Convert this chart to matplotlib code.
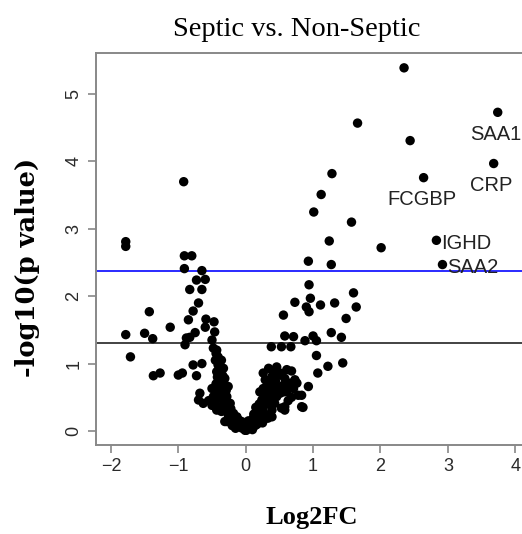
import numpy as np
import matplotlib
matplotlib.use('agg')
from matplotlib import pyplot as plt

# upregulated / far-out genes
x_hi = [2.35, 3.74, 1.66, 2.44, 3.68, 1.28, 2.64, 1.12, 1.01, 1.57, 1.24, 2.83, 2.01,
        2.92, 0.93, 1.27, 0.94, 1.60, 0.73, 0.96, 0.90, 0.94, 1.11, 1.32, 1.64, 0.56,
        1.49, 1.27, 1.42, 0.58, 0.71, 0.88, 1.00, 1.05, 0.38, 0.53, 0.67, 1.05, 1.22,
        1.44, 1.07, 0.93, 0.85, 0.83, 0.58]
y_hi = [5.39, 4.73, 4.57, 4.31, 3.97, 3.82, 3.76, 3.51, 3.25, 3.10, 2.82, 2.83, 2.72,
        2.47, 2.52, 2.47, 2.17, 2.05, 1.91, 1.97, 1.84, 1.77, 1.87, 1.90, 1.84, 1.72,
        1.67, 1.46, 1.39, 1.41, 1.40, 1.34, 1.41, 1.34, 1.25, 1.25, 1.25, 1.12, 0.96,
        1.01, 0.86, 0.66, 0.35, 0.53, 0.36]

# downregulated side
x_lo = [-0.92, -1.78, -1.78, -1.43, -1.78, -1.50, -1.38, -1.12, -1.71, -1.37, -1.27,
        -1.00, -0.94, -0.91, -0.80, -0.91, -0.65, -0.73, -0.60, -0.83, -0.65, -0.70,
        -0.78, -0.85, -0.59, -0.47, -0.60, -0.46, -0.75, -0.88, -0.83, -0.90, -0.50,
        -0.48, -0.43, -0.41, -0.36, -0.41, -0.33, -0.43, -0.31, -0.38, -0.26, -0.46,
        -0.36, -0.28, -0.23, -0.41, -0.31, -0.21, -0.13, -0.08, -0.01, -0.78, -0.65,
        -0.73, -0.68, -0.70, -0.63, -0.50, -0.48, -0.46, -0.31, -0.43, -0.36, -0.28,
        -0.23, -0.13, -0.08, -0.45, -0.38, -0.35, -0.30, -0.25, -0.18, -0.20, -0.15,
        -0.05, -0.40, -0.33, -0.26, -0.39, -0.44, -0.55, -0.50, -0.10, -0.03, -0.17,
        -0.44, -0.40, -0.37, -0.34, -0.42, -0.32, -0.29, -0.40, -0.35, -0.27, -0.22,
        -0.18, -0.12, -0.06]
y_lo = [3.70, 2.81, 2.74, 1.77, 1.43, 1.45, 1.37, 1.54, 1.10, 0.82, 0.86,
        0.83, 0.86, 2.60, 2.60, 2.41, 2.38, 2.24, 2.25, 2.10, 2.10, 1.90,
        1.78, 1.65, 1.66, 1.62, 1.54, 1.47, 1.46, 1.38, 1.39, 1.28, 1.35,
        1.23, 1.20, 1.10, 1.05, 0.98, 0.93, 0.88, 0.78, 0.71, 0.66, 0.61,
        0.56, 0.51, 0.41, 0.36, 0.34, 0.26, 0.21, 0.11, 0.01, 0.98, 1.00,
        0.82, 0.56, 0.46, 0.41, 0.63, 0.51, 0.41, 0.14, 0.31, 0.29, 0.14,
        0.21, 0.11, 0.06, 1.05, 0.85, 0.65, 0.45, 0.32, 0.18, 0.08, 0.04,
        0.04, 0.50, 0.40, 0.24, 0.78, 0.70, 0.45, 0.38, 0.16, 0.07, 0.10,
        1.15, 1.00, 0.92, 0.82, 0.80, 0.70, 0.60, 0.62, 0.48, 0.40, 0.33,
        0.26, 0.16, 0.14]

# right arm of the V
x_mid = [0.01, 0.06, 0.11, 0.16, 0.21, 0.19, 0.26, 0.31, 0.24, 0.36, 0.43, 0.46, 0.53,
         0.58, 0.06, 0.11, 0.16, 0.21, 0.26, 0.36, 0.29, 0.19, 0.39, 0.33, 0.26, 0.34,
         0.41, 0.46, 0.53, 0.61, 0.68, 0.73, 0.66, 0.56, 0.46, 0.36, 0.29, 0.26, 0.34,
         0.41, 0.51, 0.61, 0.71, 0.78, 0.21, 0.83, 0.51, 0.76, 0.39, 0.48, 0.03, 0.09,
         0.14, 0.22, 0.28, 0.12, 0.20, 0.15, 0.04, 0.44, 0.31, 0.63, 0.31, 0.39, 0.44,
         0.58, 0.63, 0.49, 0.56, 0.68, 0.43, 0.36, 0.10, 0.17, 0.25]
y_mid = [0.01, 0.04, 0.11, 0.16, 0.21, 0.31, 0.29, 0.41, 0.46, 0.39, 0.41, 0.51, 0.34,
         0.31, 0.11, 0.19, 0.26, 0.31, 0.36, 0.46, 0.24, 0.14, 0.31, 0.19, 0.86, 0.93,
         0.88, 0.95, 0.83, 0.91, 0.89, 0.76, 0.71, 0.68, 0.67, 0.73, 0.76, 0.63, 0.56,
         0.61, 0.56, 0.58, 0.63, 0.53, 0.58, 0.36, 0.86, 0.71, 0.21, 0.56, 0.06, 0.05,
         0.08, 0.14, 0.18, 0.25, 0.40, 0.35, 0.15, 0.78, 0.52, 0.45, 0.66, 0.81, 0.74,
         0.78, 0.68, 0.64, 0.58, 0.50, 0.53, 0.60, 0.02, 0.10, 0.12]

genes = ['SAA1', 'CRP', 'FCGBP', 'IGHD', 'SAA2']
gene_x = [3.74, 3.68, 2.64, 2.83, 2.92]
gene_y = [4.73, 3.97, 3.76, 2.83, 2.47]
gene_pos = ['below', 'below', 'below', 'right', 'right']

p05 = 1.30
p_fdr = 2.37

fig = plt.figure(figsize=(5.22, 5.34), dpi=100)
ax = fig.add_axes([0.1833, 0.1667, 0.8425, 0.734])

xs = x_hi + x_lo + x_mid
ys = y_hi + y_lo + y_mid
ax.scatter(xs, ys, s=46, c='black', edgecolors='none', zorder=3)

ax.axhline(p_fdr, color='#2a2aff', lw=1.4, zorder=2)
ax.axhline(p05, color='#222222', lw=1.2, zorder=2)

for g, gx, gy, pos in zip(genes, gene_x, gene_y, gene_pos):
    if pos == 'below':
        ax.text(gx - 0.03, gy - 0.33, g, ha='center', va='center', fontsize=14.5,
                family='Liberation Sans', color='#222222')
    else:
        ax.text(gx + 0.07, gy - 0.04, g, ha='left', va='center', fontsize=14.5,
                family='Liberation Sans', color='#222222')

ax.set_xlim(-2.226, 4.3)
ax.set_ylim(-0.208, 5.61)
ax.set_xticks([-2, -1, 0, 1, 2, 3, 4])
ax.set_yticks([0, 1, 2, 3, 4, 5])
ax.set_xticklabels(['\u22122', '\u22121', '0', '1', '2', '3', '4'])
for lab in ax.get_yticklabels():
    lab.set_rotation(90)
    lab.set_va('center')
ax.tick_params(colors='#888888', labelcolor='#2a2a2a', labelsize=13, length=6,
               width=1.2)
for lab in ax.get_xticklabels() + ax.get_yticklabels():
    lab.set_family('Liberation Sans')
for sp in ax.spines.values():
    sp.set_color('#888888')
    sp.set_linewidth(1.4)

fig.text(0.569, 0.945, 'Septic vs. Non-Septic', ha='center', va='center',
         fontsize=20.5, family='Liberation Serif')
fig.text(0.052, 0.50, '-log10(p value)', ha='center', va='center', rotation=90,
         fontsize=18.5, fontweight='bold', family='DejaVu Serif')
fig.text(0.598, 0.03, 'Log2FC', ha='center', va='center',
         fontsize=19, fontweight='bold', family='Liberation Serif')

plt.savefig('out.png')
